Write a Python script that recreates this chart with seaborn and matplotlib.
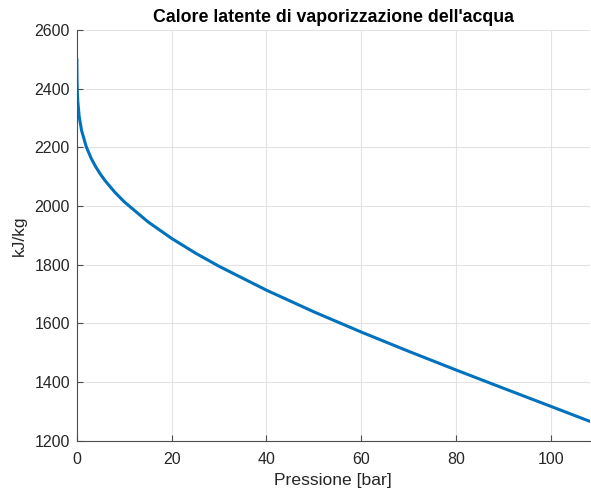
import matplotlib
matplotlib.use("Agg")
import matplotlib.pyplot as plt
import seaborn as sns
import pandas as pd

# Saturated water: pressure [bar] and latent heat of vaporization [kJ/kg]
pressure_bar = [0.006117, 0.01, 0.02, 0.05, 0.1, 0.2, 0.5, 1, 2, 3, 4, 5, 6, 8,
                10, 15, 20, 25, 30, 40, 50, 60, 70, 80, 90, 100, 110]
latent_heat = [2500.9, 2477.7, 2459.8, 2423.0, 2392.1, 2357.5, 2304.7, 2257.5,
               2201.6, 2163.5, 2133.4, 2108.0, 2085.8, 2047.5, 2014.6, 1946.4,
               1889.8, 1840.0, 1794.9, 1713.5, 1639.7, 1570.8, 1505.2, 1441.6,
               1379.3, 1317.6, 1255.5]

df = pd.DataFrame({"p": pressure_bar, "r": latent_heat})

sns.set_theme(style="white")
plt.rcParams["font.family"] = ["Liberation Sans", "DejaVu Sans"]

fig = plt.figure(figsize=(5.91, 4.91), dpi=100)
ax = fig.add_axes([0.130, 0.102, 0.868, 0.837])

sns.lineplot(data=df, x="p", y="r", ax=ax, color="#0072BD", linewidth=2.2,
             sort=False, estimator=None)

ax.set_xlim(0, 108.2)
ax.set_ylim(1200, 2600)
ax.set_xticks([0, 20, 40, 60, 80, 100])
ax.set_yticks([1200, 1400, 1600, 1800, 2000, 2200, 2400, 2600])
ax.grid(True, color="#e3e3e3", linewidth=0.8)
ax.set_axisbelow(True)

for s in ["top", "right"]:
    ax.spines[s].set_visible(False)
for s in ["left", "bottom"]:
    ax.spines[s].set_color("#4d4d4d")
    ax.spines[s].set_linewidth(0.8)

ax.tick_params(direction="in", length=4, width=0.8, color="#4d4d4d",
               labelsize=11.5, labelcolor="#262626", left=True, bottom=True)
ax.tick_params(axis="x", pad=8)
ax.tick_params(axis="y", pad=5)

ax.set_xlabel("Pressione [bar]", fontsize=12.6, color="#262626", labelpad=4)
ax.set_ylabel("kJ/kg", fontsize=12.6, color="#262626", labelpad=5)
ax.set_title("Calore latente di vaporizzazione dell'acqua", fontsize=12.8,
             fontweight="bold", color="black", pad=6)

fig.savefig("out.png", dpi=100)
